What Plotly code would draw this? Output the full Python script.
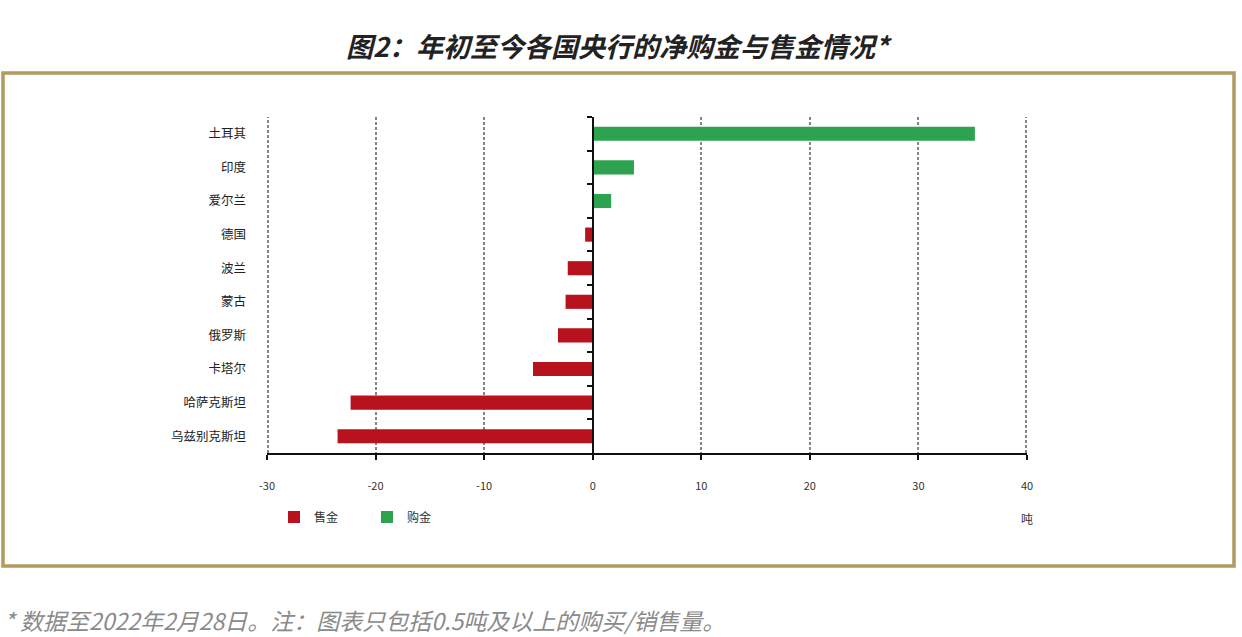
import plotly.graph_objects as go

countries = ["土耳其", "印度", "爱尔兰", "德国", "波兰", "蒙古", "俄罗斯", "卡塔尔", "哈萨克斯坦", "乌兹别克斯坦"]
values = [35.2, 3.8, 1.7, -0.7, -2.3, -2.5, -3.2, -5.5, -22.3, -23.5]
x_ticks = [-30, -20, -10, 0, 10, 20, 30, 40]

sell_y = [c for c, v in zip(countries, values) if v < 0]
sell_x = [v for v in values if v < 0]
buy_y = [c for c, v in zip(countries, values) if v > 0]
buy_x = [v for v in values if v > 0]

RED = "#b8121e"
GREEN = "#2ea34f"
FONT = "Noto Sans CJK SC"
GRID = "#858585"

fig = go.Figure()
fig.add_trace(go.Bar(x=sell_x, y=sell_y, orientation="h", name="售金",
                     marker=dict(color=RED, line=dict(width=0)), width=0.42))
fig.add_trace(go.Bar(x=buy_x, y=buy_y, orientation="h", name="购金",
                     marker=dict(color=GREEN, line=dict(width=0)), width=0.42))
# invisible trace to carry the zero-axis category ticks
fig.add_trace(go.Scatter(x=[0] * len(countries), y=countries, yaxis="y2", mode="markers",
                         marker=dict(opacity=0), showlegend=False, hoverinfo="skip"))

W, H = 1242, 637
L, R, T, B = 267, 1027, 117, 453
pw, ph = R - L, B - T
def px(x):
    return (x - L) / pw
def py(y):
    return (B - y) / ph

fig.update_layout(
    width=W, height=H, autosize=False,
    margin=dict(l=L, r=W - R, t=T, b=H - B, pad=0),
    paper_bgcolor="white", plot_bgcolor="white",
    barmode="relative",
    font=dict(family=FONT, color="#333"),
    xaxis=dict(range=[x_ticks[0], x_ticks[-1]], tickvals=x_ticks,
               ticktext=[str(t) for t in x_ticks],
               showgrid=True, gridcolor=GRID, griddash="3px,2px", gridwidth=2,
               zeroline=True, zerolinecolor="#111", zerolinewidth=1.6,
               showline=True, linecolor="#111", linewidth=1.6,
               ticks="outside", ticklen=5, tickcolor="#111", tickwidth=1.5,
               tickfont=dict(size=11, color="#333"), ticklabelstandoff=17),
    yaxis=dict(type="category", categoryorder="array", categoryarray=countries,
               range=[len(countries) - 0.5, -0.5], showline=False, showgrid=False,
               ticks="", tickfont=dict(size=12.5, color="#222"), ticklabelstandoff=20),
    yaxis2=dict(type="category", categoryorder="array", categoryarray=countries,
                overlaying="y", matches="y", anchor="free", position=px(593),
                showline=True, linecolor="#111", linewidth=1.6, showgrid=False,
                ticks="outside", tickson="boundaries", ticklen=5, tickcolor="#111", tickwidth=1.5,
                showticklabels=False),
    legend=dict(orientation="h", x=px(274), y=py(517), xanchor="left", yanchor="middle",
                font=dict(size=12, color="#333"), itemwidth=30, traceorder="normal",
                bgcolor="rgba(0,0,0,0)", entrywidth=48, entrywidthmode="pixels"),
    showlegend=True,
)

# gridlines at the two range ends (plotly skips grid lines on the plot edges;
# shapes there are half-clipped, hence the doubled width)
for xv in (x_ticks[0], x_ticks[-1]):
    fig.add_shape(type="line", xref="x", yref="paper", x0=xv, x1=xv, y0=0, y1=1,
                  line=dict(color=GRID, width=4, dash="3px,2px"), layer="below")

fig.add_annotation(text="吨", xref="x", yref="paper", x=x_ticks[-1], y=py(518), showarrow=False,
                   font=dict(size=12, color="#333"), xanchor="center", yanchor="middle")
fig.add_annotation(text="<b><i>图2：年初至今各国央行的净购金与售金情况*</i></b>", xref="paper", yref="paper",
                   x=px(619), y=py(45), showarrow=False, xanchor="center", yanchor="middle",
                   font=dict(size=27, color="#222", family=FONT))
fig.add_annotation(text="<i>* 数据至2022年2月28日。注：图表只包括0.5吨及以上的购买/销售量。</i>", xref="paper", yref="paper",
                   x=px(2), y=py(620), showarrow=False, xanchor="left", yanchor="middle",
                   font=dict(size=23, color="#8a8a8a", family=FONT))
fig.add_shape(type="rect", xref="paper", yref="paper",
              x0=px(3), x1=px(1234), y0=py(566), y1=py(73),
              line=dict(color="#b19b60", width=3.5), fillcolor="rgba(0,0,0,0)", layer="below")

fig.write_html("out.html")
